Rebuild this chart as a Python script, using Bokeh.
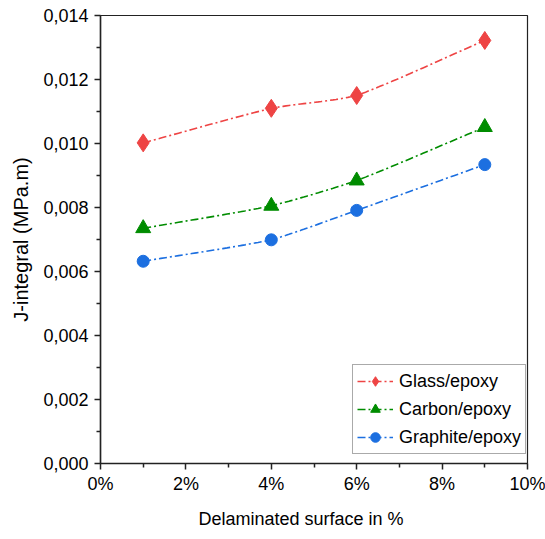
import numpy as np
from bokeh.plotting import figure
from bokeh.models import (Range1d, FixedTicker, CustomJSTickFormatter, Legend,
                          LegendItem, ColumnDataSource, Title)
from bokeh.embed import file_html
from bokeh.resources import INLINE

# Delaminated surface (%) and J-integral values (MPa.m)
surface_pct = [1, 4, 6, 9]
glass_epoxy = [0.01002, 0.01110, 0.01150, 0.01322]
carbon_epoxy = [0.00735, 0.00805, 0.00884, 0.01051]
graphite_epoxy = [0.00632, 0.00699, 0.00791, 0.00934]

series_names = ["Glass/epoxy", "Carbon/epoxy", "Graphite/epoxy"]
x_ticks = [0, 2, 4, 6, 8, 10]
y_ticks = [0.000, 0.002, 0.004, 0.006, 0.008, 0.010, 0.012, 0.014]

FONT = "Liberation Sans"


def smooth(xs, ys, n=30, tension=0.5):
    """Cardinal (Hermite) spline through the points with softened tangents."""
    x = np.asarray(xs, float)
    y = np.asarray(ys, float)
    h = np.diff(x)
    d = np.diff(y) / h
    k = len(x)
    m = np.zeros(k)
    for i in range(1, k - 1):
        m[i] = (y[i + 1] - y[i - 1]) / (x[i + 1] - x[i - 1])
    m[0] = d[0]
    m[-1] = d[-1]
    out_x, out_y = [], []
    for i in range(k - 1):
        # blend tangents towards the local chord slope to avoid overshoot
        m0 = tension * m[i] + (1 - tension) * d[i]
        m1 = tension * m[i + 1] + (1 - tension) * d[i]
        t = np.linspace(0, 1, n)
        h00 = 2 * t ** 3 - 3 * t ** 2 + 1
        h10 = t ** 3 - 2 * t ** 2 + t
        h01 = -2 * t ** 3 + 3 * t ** 2
        h11 = t ** 3 - t ** 2
        s = h00 * y[i] + h10 * h[i] * m0 + h01 * y[i + 1] + h11 * h[i] * m1
        out_x.extend((x[i] + t * h[i]).tolist())
        out_y.extend(s.tolist())
    return out_x, out_y


p = figure(width=545, height=539, output_backend="svg", toolbar_location=None,
           x_range=Range1d(0, 10), y_range=Range1d(0, 0.014),
           min_border_left=100, min_border_right=18,
           min_border_top=15, min_border_bottom=76)
p.xgrid.visible = False
p.ygrid.visible = False
p.outline_line_color = "#222222"
p.outline_line_width = 1.2
p.background_fill_color = "white"
p.border_fill_color = "white"

styles = [
    (glass_epoxy, "#EE4444", "diamond", 18),
    (carbon_epoxy, "#008C00", "triangle", 15),
    (graphite_epoxy, "#1C6FE0", "circle", 12),
]

items = []
for name, (vals, color, marker, size) in zip(series_names, styles):
    sx, sy = smooth(surface_pct, vals)
    ln = p.line(sx, sy, line_color=color, line_width=1.6, line_dash="8 3 2 3")
    src = ColumnDataSource(dict(x=surface_pct, y=vals))
    sc = p.scatter("x", "y", source=src, marker=marker, size=size,
                   fill_color=color, line_color=color)
    items.append(LegendItem(label=name, renderers=[ln, sc]))

legend = Legend(items=items, location=(252, 9))
legend.label_text_font = FONT
legend.label_text_font_size = "18px"
legend.label_text_color = "black"
legend.border_line_color = "#555555"
legend.border_line_width = 1
legend.glyph_width = 36
legend.glyph_height = 24
legend.label_standoff = 6
legend.spacing = 4
legend.padding = 4
legend.margin = 0
legend.label_height = 24
p.add_layout(legend)

# axes
p.xaxis.ticker = FixedTicker(ticks=x_ticks, minor_ticks=[1, 3, 5, 7, 9])
p.xaxis.formatter = CustomJSTickFormatter(code="return tick.toFixed(0) + '%';")
p.yaxis.ticker = FixedTicker(ticks=y_ticks,
                             minor_ticks=[0.001, 0.003, 0.005, 0.007, 0.009, 0.011, 0.013])
p.yaxis.formatter = CustomJSTickFormatter(code="return tick.toFixed(3).replace('.', ',');")

for ax in (p.xaxis[0], p.yaxis[0]):
    ax.axis_line_color = "#222222"
    ax.axis_line_width = 1.5
    ax.major_tick_line_color = "#222222"
    ax.minor_tick_line_color = "#222222"
    ax.major_tick_line_width = 1.5
    ax.minor_tick_line_width = 1.5
    ax.major_tick_out = 6
    ax.major_tick_in = 0
    ax.minor_tick_out = 4
    ax.minor_tick_in = 0
    ax.major_label_text_font = FONT
    ax.major_label_text_font_size = "18px"
    ax.major_label_text_color = "black"
    ax.axis_label_text_font = FONT
    ax.axis_label_text_font_style = "normal"
    ax.axis_label_text_color = "black"

p.yaxis.axis_label = "J-integral (MPa.m)"
p.yaxis.axis_label_text_font_size = "20px"
p.xaxis.major_label_standoff = 4
p.yaxis.major_label_standoff = 6
p.yaxis.axis_label_standoff = 8

# x-axis caption below the tick labels, slightly left of centre
xcap = Title(text="Delaminated surface in %", align="left", offset=98,
             text_font=FONT, text_font_size="18px", text_font_style="normal",
             text_color="black", standoff=21)
p.add_layout(xcap, "below")

open("out.html", "w").write(file_html(p, INLINE))
